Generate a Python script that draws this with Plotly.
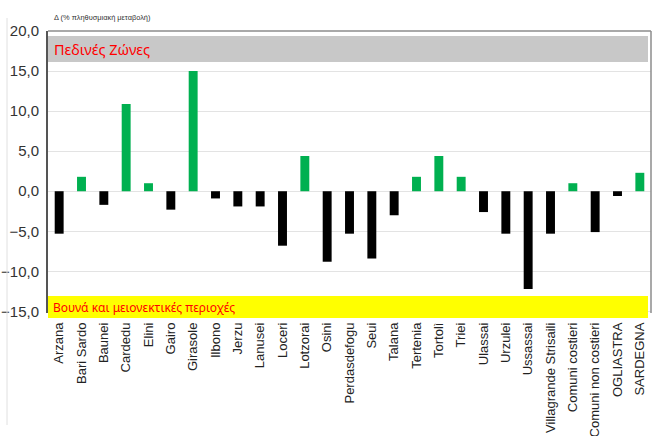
import plotly.graph_objects as go

categories = ["Arzana", "Bari Sardo", "Baunei", "Cardedu", "Elini", "Gairo", "Girasole",
              "Ilbono", "Jerzu", "Lanusei", "Loceri", "Lotzorai", "Osini", "Perdasdefogu",
              "Seui", "Talana", "Tertenia", "Tortolì", "Triei", "Ulassai", "Urzulei",
              "Ussassai", "Villagrande Strisaili", "Comuni costieri", "Comuni non costieri",
              "OGLIASTRA", "SARDEGNA"]
values = [-5.3, 1.8, -1.7, 10.9, 1.0, -2.3, 15.0,
          -0.9, -1.9, -1.9, -6.8, 4.4, -8.8, -5.3,
          -8.4, -3.0, 1.8, 4.4, 1.8, -2.6, -5.3,
          -12.2, -5.3, 1.0, -5.1,
          -0.6, 2.3]
y_ticks = [-15, -10, -5, 0, 5, 10, 15, 20]

colors = ["#00b050" if v > 0 else "#000000" for v in values]

fig = go.Figure()
fig.add_trace(go.Bar(x=categories, y=values, marker=dict(color=colors, line=dict(width=0)),
                     showlegend=False))

W, H = 663, 436
# screen coordinates of plot area
SX0, SX1, SY0, SY1 = 48, 651, 31, 313
L = SX0
R = W - SX1
T = SY0
B = H - SY1
pw = SX1 - SX0
ph = SY1 - SY0

def py(sy):
    return (SY1 - sy) / ph

def px(sx):
    return (sx - SX0) / pw

shapes = [
    dict(type="rect", xref="paper", yref="paper", x0=0.0, x1=px(648),
         y0=py(62), y1=py(36), fillcolor="#c8c8c8", line=dict(width=0), layer="below"),
    dict(type="rect", xref="paper", yref="paper", x0=0.0, x1=px(648),
         y0=py(318), y1=py(296), fillcolor="#ffff00", line=dict(width=0), layer="above"),
    dict(type="line", xref="paper", yref="paper", x0=0, x1=1, y0=1, y1=1,
         line=dict(color="#8c8c8c", width=1.5)),
    dict(type="line", xref="paper", yref="paper", x0=1, x1=1, y0=0, y1=1,
         line=dict(color="#8c8c8c", width=1.5)),
    dict(type="line", xref="paper", yref="paper", x0=px(7), x1=px(7),
         y0=py(425), y1=py(18), line=dict(color="#e0e0e0", width=1)),
]

annotations = [
    dict(text="Δ (% πληθυσμιακή μεταβολή)", xref="paper", yref="paper",
         x=px(52), y=py(17), xanchor="left", yanchor="middle", showarrow=False,
         font=dict(family="Liberation Sans, Arial", size=7.4, color="#333333")),
    dict(text="Πεδινές Ζώνες", xref="paper", yref="paper",
         x=px(52), y=py(49), xanchor="left", yanchor="middle", showarrow=False,
         font=dict(family="Noto Sans", size=14.5, color="#ff0000")),
    dict(text="Βουνά και μειονεκτικές περιοχές", xref="paper", yref="paper",
         x=px(51), y=py(307), xanchor="left", yanchor="middle", showarrow=False,
         font=dict(family="Noto Sans", size=12, color="#ff0000")),
]

fig.update_layout(
    width=W, height=H,
    margin=dict(l=L, r=R, t=T, b=B, pad=0),
    paper_bgcolor="white", plot_bgcolor="white",
    separators=",.",
    bargap=0.6,
    shapes=shapes,
    annotations=annotations,
    xaxis=dict(type="category", tickangle=-90, showgrid=False, showline=False, ticks="",
               automargin=False,
               tickfont=dict(family="Liberation Sans, Arial", size=13, color="#222222"),
               ticklabelstandoff=6),
    yaxis=dict(range=[-15.2, 20], tickvals=y_ticks, tickformat=".1f", showgrid=True,
               gridcolor="#e3e3e3", gridwidth=1, zeroline=False, automargin=False,
               showline=True, linecolor="#555555", linewidth=2, ticks="",
               ticklabelstandoff=4,
               tickfont=dict(family="Liberation Sans, Arial", size=15, color="#333333")),
)

fig.write_html("out.html", config={"displayModeBar": False},
               post_script="document.body.style.margin='0px';document.body.style.overflow='hidden';")
